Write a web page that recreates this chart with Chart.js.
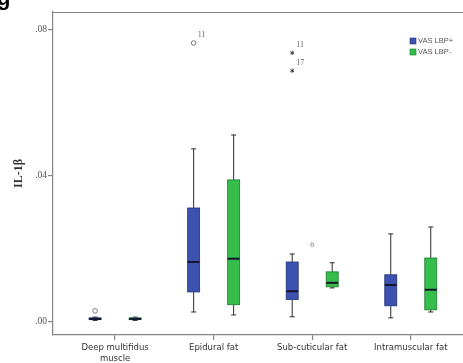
<!DOCTYPE html>
<html>
<head>
<meta charset="utf-8">
<script src="https://cdn.jsdelivr.net/npm/chart.js@4.4.0/dist/chart.umd.min.js"></script>
<style>
  html, body { margin: 0; padding: 0; background: #fff; overflow: hidden; }
  #wrap { position: relative; width: 463px; height: 363px; overflow: hidden; }
  #wrap canvas { position: absolute; left: 0; top: 0; }
  #cap { position: absolute; left: -3px; top: -15px; font: bold 22px "Liberation Sans", Arial, sans-serif; color: #000; }
</style>
</head>
<body>
<div id="wrap">
  <canvas id="chart" width="463" height="363"></canvas>
  <div id="cap">g</div>
</div>
<script>
// Tissue groups along the x axis
const categories = [["Deep multifidus", "muscle"], "Epidural fat", "Sub-cuticular fat", "Intramuscular fat"];
const seriesNames = ["VAS LBP+", "VAS LBP-"];

// IL-1β five-number summaries, VAS LBP+
const plusMin    = [0.0004, 0.0027, 0.0014, 0.0011];
const plusQ1     = [0.0006, 0.0082, 0.0061, 0.0044];
const plusMedian = [0.0008, 0.0164, 0.0084, 0.0101];
const plusQ3     = [0.0011, 0.0312, 0.0164, 0.0129];
const plusMax    = [0.0013, 0.0474, 0.0186, 0.0241];

// IL-1β five-number summaries, VAS LBP-
const minusMin    = [0.0004, 0.0019, 0.0093, 0.0027];
const minusQ1     = [0.0006, 0.0047, 0.0096, 0.0033];
const minusMedian = [0.0008, 0.0173, 0.0107, 0.0088];
const minusQ3     = [0.0011, 0.0389, 0.0137, 0.0175];
const minusMax    = [0.0013, 0.0512, 0.0162, 0.0260];

// Outlying cases: group index, value, marker type, case number
const plusOutlierCat   = [0, 1, 2, 2];
const plusOutlierVal   = [0.0030, 0.0764, 0.0737, 0.0688];
const plusOutlierMark  = ["o", "o", "*", "*"];
const plusOutlierCase  = ["", "11", "11", "17"];
const minusOutlierCat  = [];
const minusOutlierVal  = [];
const minusOutlierMark = [];
const minusOutlierCase = [];
// a stray case drawn at the middle of its group
const midOutlierCat = [2];
const midOutlierVal = [0.0211];

// Y axis
const yTickValues = [0, 0.04, 0.08];
const yTickLabels = [".00", ".04", ".08"];
const yMin = -0.0036;
const yMax = 0.0849;

const series = [
  { name: seriesNames[0], fill: "#3d52ae", edge: "#22337a",
    min: plusMin, q1: plusQ1, med: plusMedian, q3: plusQ3, max: plusMax,
    oCat: plusOutlierCat, oVal: plusOutlierVal, oMark: plusOutlierMark, oCase: plusOutlierCase, shift: -20 },
  { name: seriesNames[1], fill: "#36bd4b", edge: "#1b7a2d",
    min: minusMin, q1: minusQ1, med: minusMedian, q3: minusQ3, max: minusMax,
    oCat: minusOutlierCat, oVal: minusOutlierVal, oMark: minusOutlierMark, oCase: minusOutlierCase, shift: 20 }
];

const frameColor = "#858585";

const boxPlotPlugin = {
  id: "boxPlot",
  afterDatasetsDraw(chart) {
    const { ctx, chartArea, scales: { x, y } } = chart;
    ctx.save();

    // top frame line
    ctx.strokeStyle = frameColor;
    ctx.lineWidth = 1.2;
    ctx.beginPath();
    ctx.moveTo(chartArea.left, chartArea.top + 0.5);
    ctx.lineTo(chartArea.right, chartArea.top + 0.5);
    ctx.stroke();

    const halfW = 6;
    series.forEach(s => {
      categories.forEach((c, i) => {
        const cx = x.getPixelForValue(i) + s.shift;
        const pMin = y.getPixelForValue(s.min[i]);
        const pQ1 = y.getPixelForValue(s.q1[i]);
        const pMed = y.getPixelForValue(s.med[i]);
        const pQ3 = y.getPixelForValue(s.q3[i]);
        const pMax = y.getPixelForValue(s.max[i]);

        // whiskers
        ctx.strokeStyle = "#2a2a2a";
        ctx.lineWidth = 1;
        ctx.beginPath();
        ctx.moveTo(cx, pQ3); ctx.lineTo(cx, pMax);
        ctx.moveTo(cx, pQ1); ctx.lineTo(cx, pMin);
        ctx.moveTo(cx - 2.5, pMax); ctx.lineTo(cx + 2.5, pMax);
        ctx.moveTo(cx - 2.5, pMin); ctx.lineTo(cx + 2.5, pMin);
        ctx.stroke();

        // box
        ctx.fillStyle = s.fill;
        ctx.fillRect(cx - halfW, pQ3, halfW * 2, Math.max(pQ1 - pQ3, 1.5));
        ctx.strokeStyle = s.edge;
        ctx.lineWidth = 0.8;
        ctx.strokeRect(cx - halfW, pQ3, halfW * 2, Math.max(pQ1 - pQ3, 1.5));

        // median
        ctx.strokeStyle = "#151530";
        ctx.lineWidth = 2;
        ctx.beginPath();
        ctx.moveTo(cx - halfW, pMed); ctx.lineTo(cx + halfW, pMed);
        ctx.stroke();
      });

      // outliers
      s.oCat.forEach((ci, k) => {
        const ox = x.getPixelForValue(ci) + s.shift;
        const oy = y.getPixelForValue(s.oVal[k]);
        if (s.oMark[k] === "o") {
          ctx.strokeStyle = "#6a6a6a";
          ctx.lineWidth = 0.9;
          ctx.beginPath();
          ctx.arc(ox, oy, 2.3, 0, Math.PI * 2);
          ctx.stroke();
        } else {
          ctx.strokeStyle = "#333";
          ctx.lineWidth = 0.9;
          ctx.beginPath();
          for (let a = 0; a < 3; a++) {
            const ang = a * Math.PI / 3 + Math.PI / 2;
            ctx.moveTo(ox - 2.2 * Math.cos(ang), oy - 2.2 * Math.sin(ang));
            ctx.lineTo(ox + 2.2 * Math.cos(ang), oy + 2.2 * Math.sin(ang));
          }
          ctx.stroke();
        }
        if (s.oCase[k]) {
          ctx.fillStyle = "#6a6a6a";
          ctx.font = "8px 'Liberation Serif', serif";
          ctx.textAlign = "left";
          ctx.textBaseline = "middle";
          ctx.fillText(s.oCase[k], ox + 4, oy - 8);
        }
      });
    });

    midOutlierCat.forEach((ci, k) => {
      const ox = x.getPixelForValue(ci);
      const oy = y.getPixelForValue(midOutlierVal[k]);
      ctx.strokeStyle = "#8a8a8a";
      ctx.lineWidth = 0.9;
      ctx.beginPath();
      ctx.arc(ox, oy, 1.6, 0, Math.PI * 2);
      ctx.stroke();
    });

    // legend
    const lx = 410, ly = 38;
    series.forEach((s, k) => {
      const yy = ly + k * 11;
      ctx.fillStyle = s.fill;
      ctx.fillRect(lx, yy, 6, 6);
      ctx.strokeStyle = s.edge;
      ctx.lineWidth = 0.6;
      ctx.strokeRect(lx, yy, 6, 6);
      ctx.fillStyle = "#555";
      ctx.font = "7.5px 'Liberation Sans', Arial, sans-serif";
      ctx.textAlign = "left";
      ctx.textBaseline = "middle";
      ctx.fillText(s.name, lx + 8, yy + 3.3);
    });

    ctx.restore();
  }
};

new Chart(document.getElementById("chart"), {
  type: "scatter",
  data: {
    datasets: seriesNames.map(n => ({ label: n, data: [] }))
  },
  options: {
    responsive: false,
    animation: false,
    events: [],
    layout: { padding: { top: 12, right: 0, left: 0, bottom: 0 } },
    plugins: { legend: { display: false }, tooltip: { enabled: false } },
    scales: {
      x: {
        type: "linear",
        min: -0.63,
        max: 3.53,
        afterBuildTicks: scale => { scale.ticks = categories.map((c, i) => ({ value: i })); },
        afterFit: scale => { scale.height = 28; },
        ticks: {
          autoSkip: false,
          maxRotation: 0,
          padding: 3,
          color: "#333",
          font: { family: "'DejaVu Sans', sans-serif", size: 8.5 },
          callback: v => categories[v]
        },
        grid: { drawOnChartArea: false, drawTicks: true, tickLength: 5, color: frameColor, lineWidth: 1.2 },
        border: { display: true, color: frameColor, width: 1.2 }
      },
      y: {
        type: "linear",
        min: yMin,
        max: yMax,
        afterBuildTicks: scale => { scale.ticks = yTickValues.map(v => ({ value: v })); },
        afterFit: scale => { scale.width = 53; },
        ticks: {
          padding: 1,
          color: "#555",
          font: { family: "'Liberation Serif', serif", size: 9.5 },
          callback: (v, i) => yTickLabels[i]
        },
        grid: { drawOnChartArea: false, drawTicks: true, tickLength: 5, color: frameColor, lineWidth: 1.2 },
        border: { display: true, color: frameColor, width: 1.2 },
        title: {
          display: true,
          text: "IL-1β",
          color: "#333",
          font: { family: "'Liberation Serif', serif", size: 12, weight: "bold" },
          padding: { top: 12, bottom: 0 }
        }
      }
    }
  },
  plugins: [boxPlotPlugin]
});
</script>
</body>
</html>
